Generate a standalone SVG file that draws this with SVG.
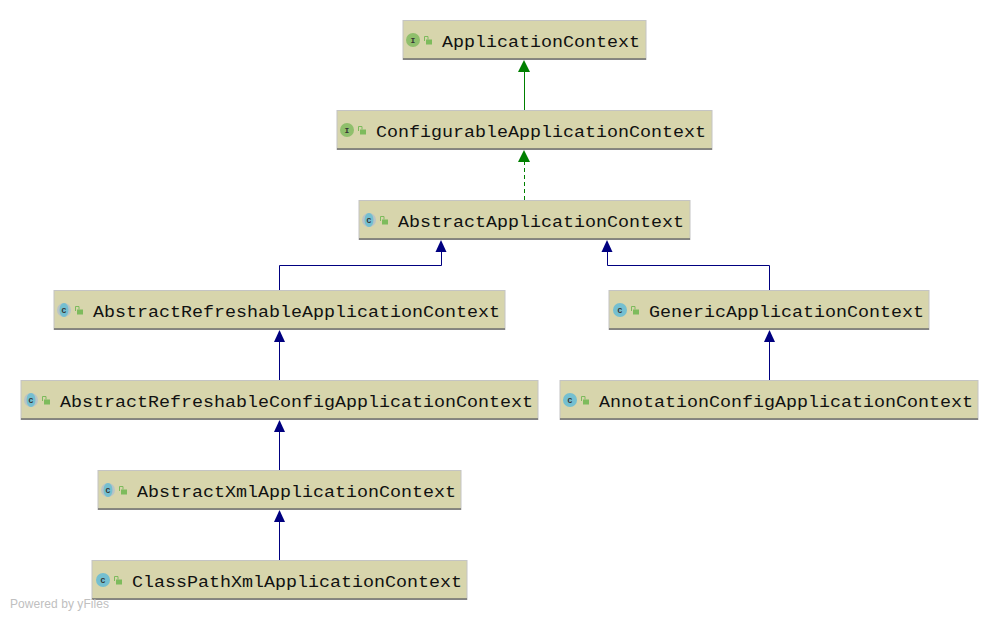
<svg xmlns="http://www.w3.org/2000/svg" width="999" height="620" viewBox="0 0 999 620">
<style>
.box{fill:#d7d5ac;stroke:#c4c4c4;stroke-width:1}
.sh{stroke:#6e6e6e;stroke-width:1.500;fill:none}
.t{font-family:"Liberation Mono",monospace;font-size:16px;fill:#111}
.ci{fill:#74bfd0}.ii{fill:#8fbf6c}.ab{fill:#b9c4c6}
.cl{font-family:"Liberation Mono",monospace;font-size:8px;font-weight:bold;fill:#333;text-anchor:middle}
.lk{fill:#7dbb5c}.ls{fill:none;stroke:#7dbb5c;stroke-width:1}
.g{fill:none;stroke:#008000;stroke-width:1}
.b{fill:none;stroke:#000080;stroke-width:1}
</style>
<defs>
<g id="lock"><rect x="2" y="3.500" width="6" height="5" class="lk"/><path d="M.5 5V.5h3.500v3" class="ls"/></g>
<g id="abs"><circle class="ab" r="7"/><ellipse class="ci" rx="4.500" ry="7"/><text class="cl" y="3">C</text></g>
<g id="cls"><circle class="ci" r="7"/><text class="cl" y="3">C</text></g>
<g id="itf"><circle class="ii" r="7"/><text class="cl" y="3">I</text></g>
</defs>
<g id="connectors">
<path class="g" d="M524.500 110V70"/><polygon points="524,60 518,72 530,72" fill="#008000"/>
<path class="g" d="M524.500 200V160" stroke-dasharray="4,3" stroke-width="1.300"/><polygon points="524,150 518,162 530,162" fill="#008000"/>
<path class="b" d="M279.500 290V265.500H441.500V250"/><polygon points="441,240 435.500,252 446.500,252" fill="#000080"/>
<path class="b" d="M769.500 290V265.500H607.500V250"/><polygon points="607,240 601.500,252 612.500,252" fill="#000080"/>
<path class="b" d="M279.500 380V340"/><polygon points="279.500,330 274,342 285,342" fill="#000080"/>
<path class="b" d="M769.500 380V340"/><polygon points="769.500,330 764,342 775,342" fill="#000080"/>
<path class="b" d="M279.500 470V430"/><polygon points="279.500,420 274,432 285,432" fill="#000080"/>
<path class="b" d="M279.500 560V520"/><polygon points="279.500,510 274,522 285,522" fill="#000080"/>
</g>
<g id="n1"><rect class="box" x="403" y="20.500" width="243" height="39"/><path class="sh" d="M403 59h243"/><use href="#itf" x="413" y="40"/><use href="#lock" x="424" y="36"/><text class="t" x="442" y="47" textLength="198" lengthAdjust="spacingAndGlyphs">ApplicationContext</text></g>
<g id="n2"><rect class="box" x="337" y="110.500" width="375" height="39"/><path class="sh" d="M337 149h375"/><use href="#itf" x="347" y="130"/><use href="#lock" x="358" y="126"/><text class="t" x="376" y="137" textLength="330" lengthAdjust="spacingAndGlyphs">ConfigurableApplicationContext</text></g>
<g id="n3"><rect class="box" x="359" y="200.500" width="331" height="39"/><path class="sh" d="M359 239h331"/><use href="#abs" x="369" y="220"/><use href="#lock" x="380" y="216"/><text class="t" x="398" y="227" textLength="286" lengthAdjust="spacingAndGlyphs">AbstractApplicationContext</text></g>
<g id="n4"><rect class="box" x="54" y="290.500" width="451" height="39"/><path class="sh" d="M54 329h451"/><use href="#abs" x="64" y="310"/><use href="#lock" x="75" y="306"/><text class="t" x="93" y="317" textLength="407" lengthAdjust="spacingAndGlyphs">AbstractRefreshableApplicationContext</text></g>
<g id="n5"><rect class="box" x="609" y="290.500" width="320" height="39"/><path class="sh" d="M609 329h320"/><use href="#cls" x="620" y="310"/><use href="#lock" x="631" y="306"/><text class="t" x="649" y="317" textLength="275" lengthAdjust="spacingAndGlyphs">GenericApplicationContext</text></g>
<g id="n6"><rect class="box" x="21" y="380.500" width="517" height="39"/><path class="sh" d="M21 419h517"/><use href="#abs" x="31" y="400"/><use href="#lock" x="42" y="396"/><text class="t" x="60" y="407" textLength="473" lengthAdjust="spacingAndGlyphs">AbstractRefreshableConfigApplicationContext</text></g>
<g id="n7"><rect class="box" x="560" y="380.500" width="418" height="39"/><path class="sh" d="M560 419h418"/><use href="#cls" x="570" y="400"/><use href="#lock" x="581" y="396"/><text class="t" x="599" y="407" textLength="374" lengthAdjust="spacingAndGlyphs">AnnotationConfigApplicationContext</text></g>
<g id="n8"><rect class="box" x="98" y="470.500" width="363" height="39"/><path class="sh" d="M98 509h363"/><use href="#abs" x="108" y="490"/><use href="#lock" x="119" y="486"/><text class="t" x="137" y="497" textLength="319" lengthAdjust="spacingAndGlyphs">AbstractXmlApplicationContext</text></g>
<g id="n9"><rect class="box" x="92" y="560.500" width="375" height="39"/><path class="sh" d="M92 599h375"/><use href="#cls" x="103" y="580"/><use href="#lock" x="114" y="576"/><text class="t" x="132" y="587" textLength="330" lengthAdjust="spacingAndGlyphs">ClassPathXmlApplicationContext</text></g>
<text x="10" y="608" font-family="Liberation Sans,sans-serif" font-size="12" fill="#c0c0c0" textLength="99" lengthAdjust="spacing">Powered by yFiles</text>
</svg>
